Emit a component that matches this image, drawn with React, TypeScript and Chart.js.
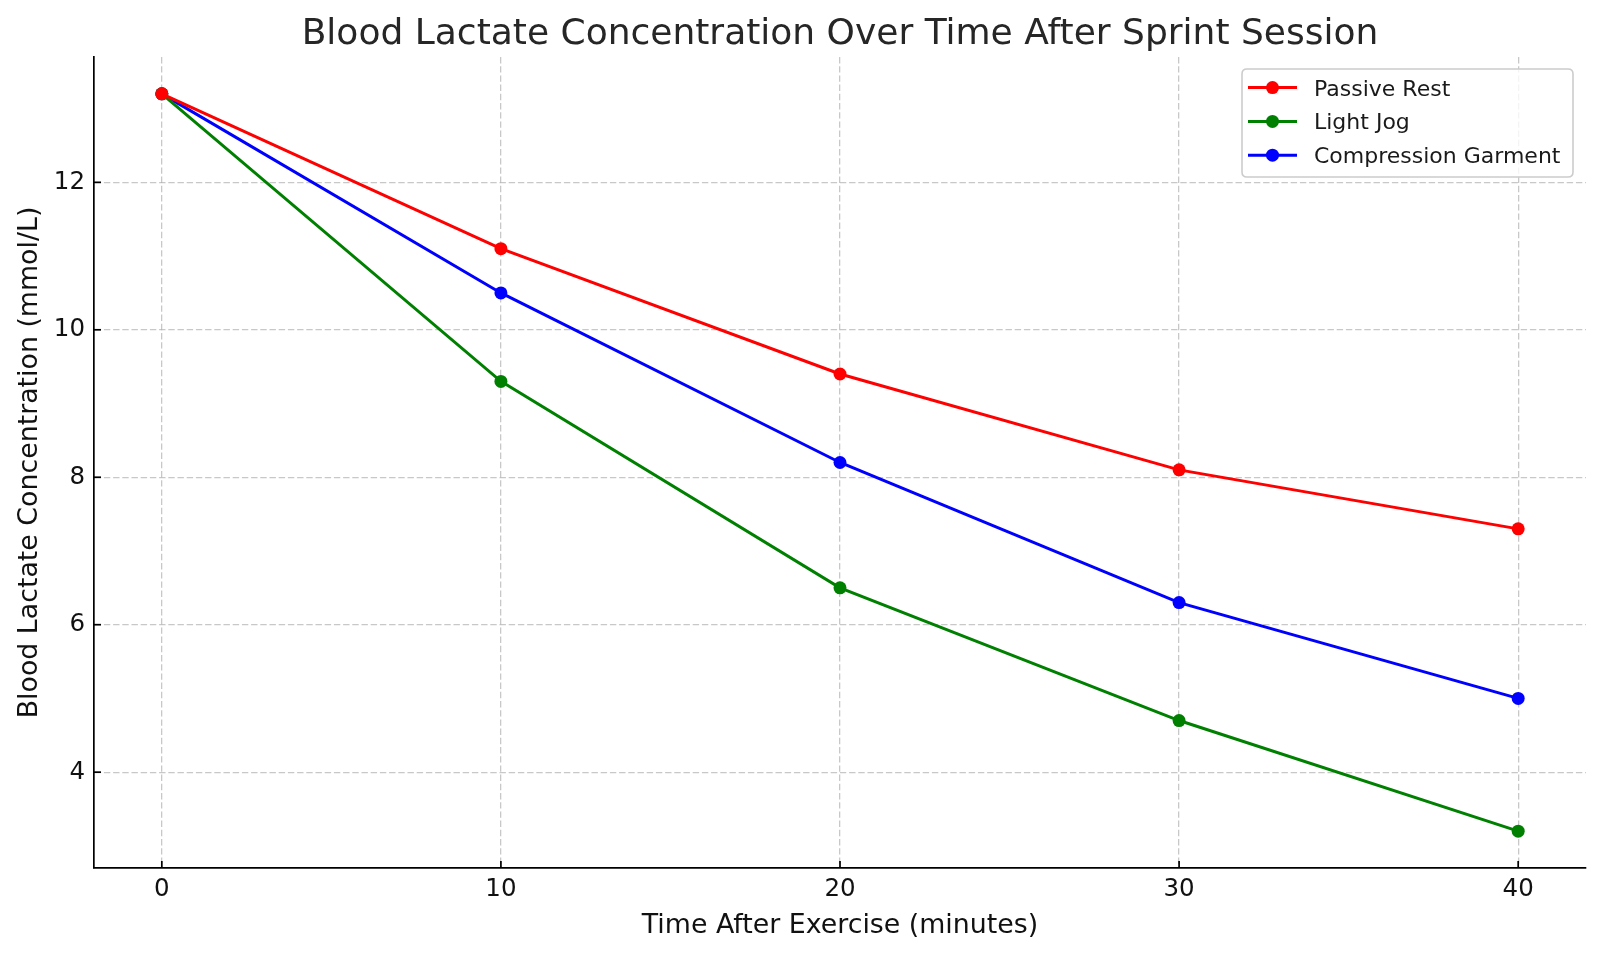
import React, { useEffect, useRef } from "react";
import { Chart, registerables } from "chart.js";

Chart.register(...registerables);

const TITLE = "Blood Lactate Concentration Over Time After Sprint Session";
const X_LABEL = "Time After Exercise (minutes)";
const Y_LABEL = "Blood Lactate Concentration (mmol/L)";

const TIMES = [0, 10, 20, 30, 40];
const PASSIVE_REST = [13.2, 11.1, 9.4, 8.1, 7.3];
const LIGHT_JOG = [13.2, 9.3, 6.5, 4.7, 3.2];
const COMPRESSION = [13.2, 10.5, 8.2, 6.3, 5.0];

const SERIES_NAMES = ["Passive Rest", "Light Jog", "Compression Garment"];
const SERIES_COLORS = ["#ff0000", "#008000", "#0000ff"];

const X_TICKS = [0, 10, 20, 30, 40];
const Y_TICKS = [4, 6, 8, 10, 12];
const X_MIN = -2;
const X_MAX = 42;
const Y_MIN = 2.7;
const Y_MAX = 13.7;

const FONT = "'DejaVu Sans', sans-serif";
const GRID_DASH = [6.4, 2.8];

export default function App() {
  const ref = useRef<HTMLCanvasElement | null>(null);

  useEffect(() => {
    document.body.style.margin = "0";
    const canvas = ref.current;
    if (!canvas) return;

    const seriesValues = [PASSIVE_REST, LIGHT_JOG, COMPRESSION];
    const datasets = seriesValues.map((vals, i) => ({
      label: SERIES_NAMES[i],
      data: TIMES.map((t, j) => ({ x: t, y: vals[j] })),
      borderColor: SERIES_COLORS[i],
      backgroundColor: SERIES_COLORS[i],
      pointBackgroundColor: SERIES_COLORS[i],
      pointBorderColor: SERIES_COLORS[i],
      pointBorderWidth: 0,
      pointRadius: 6.5,
      borderWidth: 3,
      tension: 0,
      clip: false as any,
    }));

    const decor = {
      id: "decor",
      afterDatasetsDraw(chart: any) {
        const ctx = chart.ctx;
        const area = chart.chartArea;
        const xs = chart.scales.x;
        const ys = chart.scales.y;
        ctx.save();
        // inward tick marks
        ctx.strokeStyle = "#000";
        ctx.lineWidth = 1.7;
        ctx.setLineDash([]);
        X_TICKS.forEach((v) => {
          const px = xs.getPixelForValue(v);
          ctx.beginPath();
          ctx.moveTo(px, area.bottom);
          ctx.lineTo(px, area.bottom - 7);
          ctx.stroke();
        });
        Y_TICKS.forEach((v) => {
          const py = ys.getPixelForValue(v);
          ctx.beginPath();
          ctx.moveTo(area.left, py);
          ctx.lineTo(area.left + 7, py);
          ctx.stroke();
        });

        // title
        const cx = (area.left + area.right) / 2;
        ctx.fillStyle = "#262626";
        ctx.font = `36px ${FONT}`;
        ctx.textAlign = "center";
        ctx.textBaseline = "alphabetic";
        ctx.fillText(TITLE, cx, 43.5);

        // x label
        ctx.fillStyle = "#111";
        ctx.font = `26.8px ${FONT}`;
        ctx.fillText(X_LABEL, cx, 932.5);

        // y label
        ctx.save();
        ctx.translate(36.7, (area.top + area.bottom) / 2);
        ctx.rotate(-Math.PI / 2);
        ctx.fillText(Y_LABEL, 0, 0);
        ctx.restore();

        // legend
        const bx = 1242, by = 69, bw = 331, bh = 108, r = 5;
        ctx.beginPath();
        ctx.moveTo(bx + r, by);
        ctx.lineTo(bx + bw - r, by);
        ctx.quadraticCurveTo(bx + bw, by, bx + bw, by + r);
        ctx.lineTo(bx + bw, by + bh - r);
        ctx.quadraticCurveTo(bx + bw, by + bh, bx + bw - r, by + bh);
        ctx.lineTo(bx + r, by + bh);
        ctx.quadraticCurveTo(bx, by + bh, bx, by + bh - r);
        ctx.lineTo(bx, by + r);
        ctx.quadraticCurveTo(bx, by, bx + r, by);
        ctx.closePath();
        ctx.fillStyle = "rgba(255,255,255,0.8)";
        ctx.fill();
        ctx.strokeStyle = "#cccccc";
        ctx.lineWidth = 1.6;
        ctx.stroke();

        const rowsY = [87.6, 121.4, 155.2];
        chart.data.datasets.forEach((ds: any, i: number) => {
          const y = rowsY[i];
          ctx.strokeStyle = ds.borderColor;
          ctx.lineWidth = 3;
          ctx.beginPath();
          ctx.moveTo(1248, y);
          ctx.lineTo(1297, y);
          ctx.stroke();
          ctx.fillStyle = ds.borderColor;
          ctx.beginPath();
          ctx.arc(1272.5, y, 6.5, 0, Math.PI * 2);
          ctx.fill();
          ctx.fillStyle = "#1a1a1a";
          ctx.font = `22px ${FONT}`;
          ctx.textAlign = "left";
          ctx.textBaseline = "alphabetic";
          ctx.fillText(ds.label, 1314, y + 8);
        });
        ctx.restore();
      },
    };

    const chart = new Chart(canvas, {
      type: "line",
      data: { datasets: datasets as any },
      options: {
        responsive: false,
        animation: false,
        layout: { padding: { top: 57, right: 14, left: 0, bottom: 0 } },
        plugins: {
          legend: { display: false },
          title: { display: false },
          tooltip: { enabled: false },
        },
        scales: {
          x: {
            type: "linear",
            min: X_MIN,
            max: X_MAX,
            afterBuildTicks: (s: any) => {
              s.ticks = X_TICKS.map((v) => ({ value: v }));
            },
            afterFit: (s: any) => {
              s.height = 86;
            },
            ticks: {
              color: "#111",
              font: { family: FONT, size: 24.5 },
              padding: 7,
              maxRotation: 0,
              callback: (v: any) => String(v),
            },
            grid: {
              drawTicks: false,
              color: "rgba(176,176,176,0.7)",
              lineWidth: 1.3,
            } as any,
            border: { display: true, color: "#000", width: 1.7, dash: GRID_DASH } as any,
          },
          y: {
            type: "linear",
            min: Y_MIN,
            max: Y_MAX,
            afterBuildTicks: (s: any) => {
              s.ticks = Y_TICKS.map((v) => ({ value: v }));
            },
            afterFit: (s: any) => {
              s.width = 94;
            },
            ticks: {
              color: "#111",
              font: { family: FONT, size: 24.5 },
              padding: 9,
              callback: (v: any) => String(v),
            },
            grid: {
              drawTicks: false,
              color: "rgba(176,176,176,0.7)",
              lineWidth: 1.3,
            } as any,
            border: { display: true, color: "#000", width: 1.7, dash: GRID_DASH } as any,
          },
        },
      },
      plugins: [decor],
    });

    return () => chart.destroy();
  }, []);

  return (
    <div style={{ position: "absolute", left: 0, top: 0, width: 1600, height: 954, background: "#fff" }}>
      <canvas ref={ref} width={1600} height={954} style={{ display: "block", width: 1600, height: 954 }} />
    </div>
  );
}
